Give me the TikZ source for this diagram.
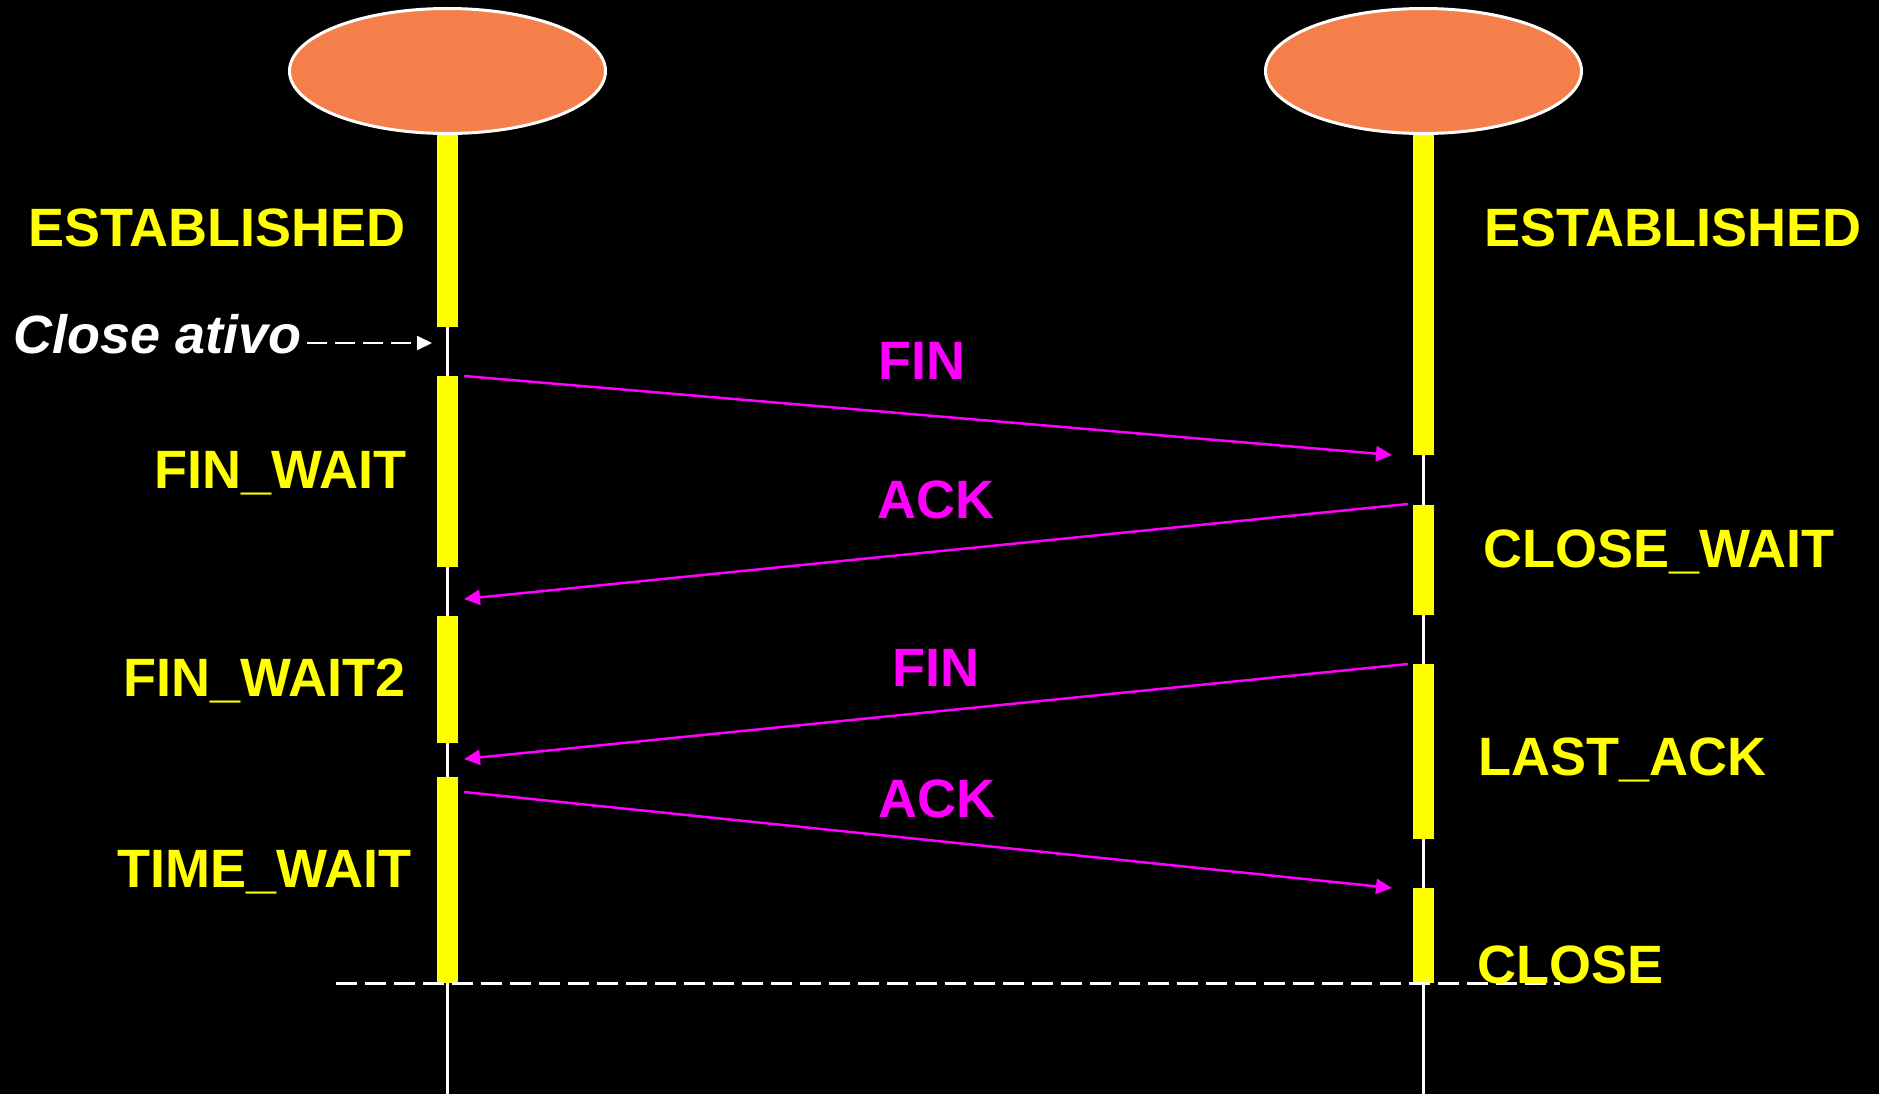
\documentclass[tikz,border=0pt]{standalone}
\usepackage{fontspec}
\setmainfont{Liberation Sans}
\usetikzlibrary{shapes.geometric,arrows.meta}
\definecolor{peerorange}{RGB}{245,127,75}
\definecolor{msgmagenta}{RGB}{255,0,255}
\definecolor{stateyellow}{RGB}{255,255,0}
\begin{document}
\begin{tikzpicture}[x=1pt,y=-1pt,
  peer/.style={ellipse, fill=peerorange, draw=white, line width=3pt,
    minimum width=316pt, minimum height=125pt, inner sep=0pt},
  lifeline/.style={draw=white, line width=2.5pt},
  active/.style={fill=stateyellow},
  statelabel/.style={text=stateyellow, inner sep=0pt,
    font=\fontsize{54pt}{60pt}\selectfont\bfseries},
  msglabel/.style={text=msgmagenta, inner sep=0pt,
    font=\fontsize{54pt}{60pt}\selectfont\bfseries},
  note/.style={text=white, inner sep=0pt,
    font=\fontsize{54pt}{60pt}\selectfont\bfseries\itshape},
  msg/.style={draw=msgmagenta, line width=2.5pt,
    -{Triangle[length=16pt,width=15pt]}},
  hint/.style={draw=white, line width=2pt, dash pattern=on 20pt off 8pt,
    -{Triangle[length=15pt,width=14pt]}},
  limit/.style={draw=white, line width=2.5pt, dash pattern=on 21pt off 8pt},
]
% background and page size
\fill[black] (0,0) rectangle (1879,1094);
\useasboundingbox (0,0) rectangle (1879,1094);

% the two endpoints
\node[peer] (cli) at (447.5,71) {};
\node[peer] (srv) at (1423.5,71) {};

% lifelines
\coordinate (cliend) at (447.5,1094);
\coordinate (srvend) at (1423.5,1094);
\draw[lifeline] (cli.south) -- (cliend);
\draw[lifeline] (srv.south) -- (srvend);

% activity bars, left side
\fill[active] (437,135) rectangle (458,327);
\fill[active] (437,376) rectangle (458,567);
\fill[active] (437,616) rectangle (458,743);
\fill[active] (437,777) rectangle (458,983);
% activity bars, right side
\fill[active] (1413,135) rectangle (1434,455);
\fill[active] (1413,505) rectangle (1434,615);
\fill[active] (1413,664) rectangle (1434,839);
\fill[active] (1413,888) rectangle (1434,983);

% end of the exchange
\coordinate (limA) at (336,983.5);
\coordinate (limB) at (1560,983.5);
\draw[limit] (limA) -- (limB);

% state names
\node[statelabel, anchor=base east] (estA) at (406,247) {ESTABLISHED};
\node[statelabel, anchor=base east] (finw) at (407,488) {FIN\_WAIT};
\node[statelabel, anchor=base east] (finw2) at (406,696) {FIN\_WAIT2};
\node[statelabel, anchor=base east] (timew) at (412,887) {TIME\_WAIT};
\node[statelabel, anchor=base west] (estB) at (1484,247) {ESTABLISHED};
\node[statelabel, anchor=base west] (closew) at (1483,567) {CLOSE\_WAIT};
\node[statelabel, anchor=base west] (lastack) at (1478,775) {LAST\_ACK};
\node[statelabel, anchor=base west] (closed) at (1477,983) {CLOSE};

% active close
\node[note, anchor=base west] (act) at (13,353) {Close ativo};
\coordinate (acttip) at (432,343);
\draw[hint] (act.east |- acttip) ++(6,0) -- (acttip);

% segments
\coordinate (f1s) at (464,376);   \coordinate (f1e) at (1392,455);
\coordinate (a1s) at (1408,504);  \coordinate (a1e) at (464,599);
\coordinate (f2s) at (1408,664);  \coordinate (f2e) at (464,759);
\coordinate (a2s) at (464,792);   \coordinate (a2e) at (1392,888);
\draw[msg] (f1s) -- (f1e);
\draw[msg] (a1s) -- (a1e);
\draw[msg] (f2s) -- (f2e);
\draw[msg] (a2s) -- (a2e);

\node[msglabel, anchor=base] (fin1) at (922,379) {FIN};
\node[msglabel, anchor=base] (ack1) at (936,518) {ACK};
\node[msglabel, anchor=base] (fin2) at (936,686) {FIN};
\node[msglabel, anchor=base] (ack2) at (937,817) {ACK};
\end{tikzpicture}
\end{document}
